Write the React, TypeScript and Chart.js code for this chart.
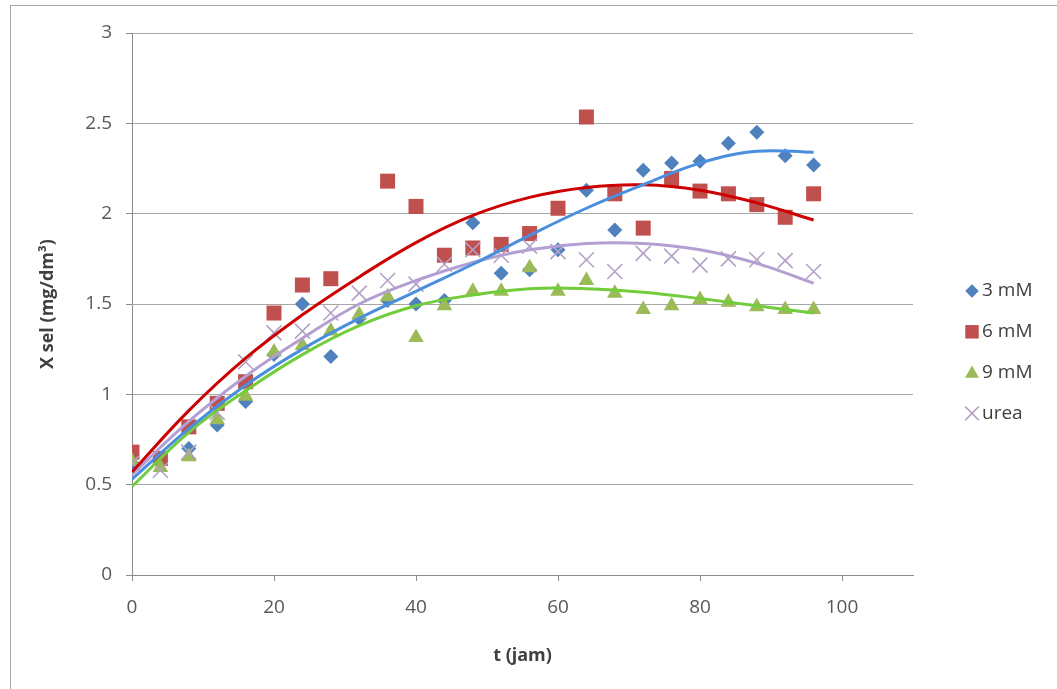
import { useEffect, useRef } from 'react';
import { Chart, registerables } from 'chart.js';
import { drawPoint } from 'chart.js/helpers';

Chart.register(...registerables);

// ---- measured data ----
const hours = [0, 4, 8, 12, 16, 20, 24, 28, 32, 36, 40, 44, 48, 52, 56, 60, 64, 68, 72, 76, 80, 84, 88, 92, 96];
const series3mM = [0.62, 0.62, 0.70, 0.83, 0.96, 1.22, 1.50, 1.21, 1.42, 1.52, 1.50, 1.52, 1.95, 1.67, 1.69, 1.80, 2.13, 1.91, 2.24, 2.28, 2.29, 2.39, 2.45, 2.32, 2.27];
const series6mM = [0.68, 0.645, 0.82, 0.95, 1.07, 1.45, 1.605, 1.64, null, 2.18, 2.04, 1.77, 1.81, 1.83, 1.89, 2.03, 2.535, 2.11, 1.92, 2.195, 2.125, 2.11, 2.05, 1.98, 2.11];
const series9mM = [0.63, 0.595, 0.655, 0.86, 0.99, 1.235, 1.27, 1.35, 1.44, 1.54, 1.315, 1.49, 1.57, 1.57, 1.70, 1.57, 1.63, 1.56, 1.47, 1.49, 1.525, 1.51, 1.485, 1.47, 1.47];
const seriesUrea = [0.62, 0.58, 0.68, 0.90, 1.18, 1.34, 1.35, 1.45, 1.56, 1.63, 1.61, 1.72, 1.80, 1.77, 1.82, 1.79, 1.745, 1.68, 1.78, 1.765, 1.715, 1.75, 1.745, 1.74, 1.68];

// ---- polynomial trendlines ----
const trendHours = [0, 8, 16, 24, 32, 40, 48, 56, 64, 72, 80, 88, 96];
const trend3mM = [0.53, 0.81, 1.05, 1.25, 1.42, 1.57, 1.72, 1.88, 2.03, 2.16, 2.28, 2.345, 2.34];
const trend6mM = [0.57, 0.91, 1.20, 1.44, 1.65, 1.84, 1.99, 2.09, 2.145, 2.16, 2.13, 2.06, 1.965];
const trend9mM = [0.49, 0.79, 1.02, 1.22, 1.38, 1.49, 1.55, 1.585, 1.585, 1.565, 1.53, 1.49, 1.45];
const trendUrea = [0.555, 0.85, 1.10, 1.31, 1.50, 1.63, 1.73, 1.80, 1.835, 1.835, 1.80, 1.725, 1.615];

const seriesNames = ['3 mM', '6 mM', '9 mM', 'urea'];
const xTicks = [0, 20, 40, 60, 80, 100];
const yTicks = [0, 0.5, 1, 1.5, 2, 2.5, 3];

const markerColors = ['#4f81bd', '#c0504d', '#9bbb59', '#b3a2c7'];
const trendColors = ['#4a8ee0', '#cc0000', '#72cc3c', '#b49fd2'];
const markerStyles = ['rectRot', 'rect', 'triangle', 'crossRot'];
const markerRadius = [7.5, 10.6, 9, 10.6];

const allSeries = [series3mM, series6mM, series9mM, seriesUrea];
const allTrends = [trend3mM, trend6mM, trend9mM, trendUrea];

const FONT = '"Open Sans", Lato, sans-serif';

const legendPlugin = {
  id: 'excelLegend',
  afterDraw(chart: any) {
    const ctx = chart.ctx as CanvasRenderingContext2D;
    const mx = 972;
    const top = 291;
    const gap = 40.8;
    ctx.save();
    ctx.font = `19px ${FONT}`;
    ctx.textBaseline = 'middle';
    ctx.textAlign = 'left';
    seriesNames.forEach((name, i) => {
      const y = top + i * gap;
      ctx.fillStyle = markerColors[i];
      ctx.strokeStyle = markerColors[i];
      ctx.lineWidth = 1.5;
      drawPoint(ctx, {
        pointStyle: markerStyles[i] as any,
        radius: markerRadius[i] * 0.9,
        rotation: 0,
        borderWidth: i === 3 ? 1.5 : 0,
      } as any, mx, y + (i === 2 ? 1 : 0));
      ctx.fillStyle = '#404040';
      ctx.fillText(name, 982, y);
    });
    ctx.restore();
  },
};

export default function App() {
  const ref = useRef<HTMLCanvasElement | null>(null);

  useEffect(() => {
    if (!ref.current) return;
    const datasets: any[] = [];
    allSeries.forEach((s, i) => {
      datasets.push({
        label: seriesNames[i],
        data: hours.map((t, k) => ({ x: t, y: s[k] })).filter((p) => p.y !== null),
        pointStyle: markerStyles[i],
        pointRadius: markerRadius[i],
        pointHoverRadius: markerRadius[i],
        backgroundColor: markerColors[i],
        borderColor: markerColors[i],
        pointBorderWidth: i === 3 ? 1.6 : 0,
        showLine: false,
        order: 4 - i,
      });
    });
    allTrends.forEach((s, i) => {
      datasets.push({
        label: seriesNames[i] + ' trend',
        data: trendHours.map((t, k) => ({ x: t, y: s[k] })),
        showLine: true,
        pointRadius: 0,
        borderColor: trendColors[i],
        borderWidth: 3,
        tension: 0.4,
        fill: false,
        order: 0,
      });
    });

    const chart = new Chart(ref.current, {
      type: 'scatter',
      data: { datasets },
      options: {
        animation: false,
        responsive: false,
        devicePixelRatio: 1,
        layout: { padding: { left: 0, top: 33, right: 144, bottom: 0 } },
        plugins: {
          legend: { display: false },
          tooltip: { enabled: false },
        },
        scales: {
          x: {
            type: 'linear',
            min: 0,
            max: 110,
            afterBuildTicks: (scale: any) => {
              scale.ticks = xTicks.map((v) => ({ value: v }));
            },
            afterFit: (scale: any) => {
              scale.height = 114;
            },
            grid: {
              drawOnChartArea: false,
              drawTicks: true,
              tickLength: 6,
              tickColor: '#8c8c8c',
            },
            border: { display: true, color: '#8c8c8c', width: 1 },
            ticks: {
              font: { family: FONT, size: 19 },
              color: '#595959',
              padding: 15,
              maxRotation: 0,
              callback: (v: any) => String(v),
            },
            title: {
              display: true,
              text: 't (jam)',
              font: { family: FONT, size: 18, weight: 'bold' },
              color: '#404040',
              padding: { top: 0, bottom: 22 },
            },
          },
          y: {
            type: 'linear',
            min: 0,
            max: 3,
            afterBuildTicks: (scale: any) => {
              scale.ticks = yTicks.map((v) => ({ value: v }));
            },
            afterFit: (scale: any) => {
              scale.width = 132;
            },
            grid: {
              color: '#a6a6a6',
              lineWidth: 1,
              drawTicks: true,
              tickLength: 6,
              tickColor: '#8c8c8c',
            },
            border: { display: true, color: '#8c8c8c', width: 1 },
            ticks: {
              font: { family: FONT, size: 19 },
              color: '#595959',
              padding: 14,
              callback: (v: any) => String(v),
            },
            title: {
              display: true,
              text: 'X sel (mg/dm³)',
              font: { family: FONT, size: 18, weight: 'bold' },
              color: '#404040',
              padding: { top: 37, bottom: 0 },
            },
          },
        },
      },
      plugins: [legendPlugin],
    });
    return () => chart.destroy();
  }, []);

  return (
    <div style={{ position: 'absolute', left: 0, top: 0, width: 1057, height: 689, background: '#fff', overflow: 'hidden' }}>
      <div
        style={{
          position: 'absolute',
          left: 10,
          top: 5,
          width: 1100,
          height: 700,
          borderLeft: '1px solid #a6a6a6',
          borderTop: '1px solid #a6a6a6',
        }}
      />
      <canvas ref={ref} width={1057} height={689} style={{ position: 'absolute', left: 0, top: 0 }} />
    </div>
  );
}
